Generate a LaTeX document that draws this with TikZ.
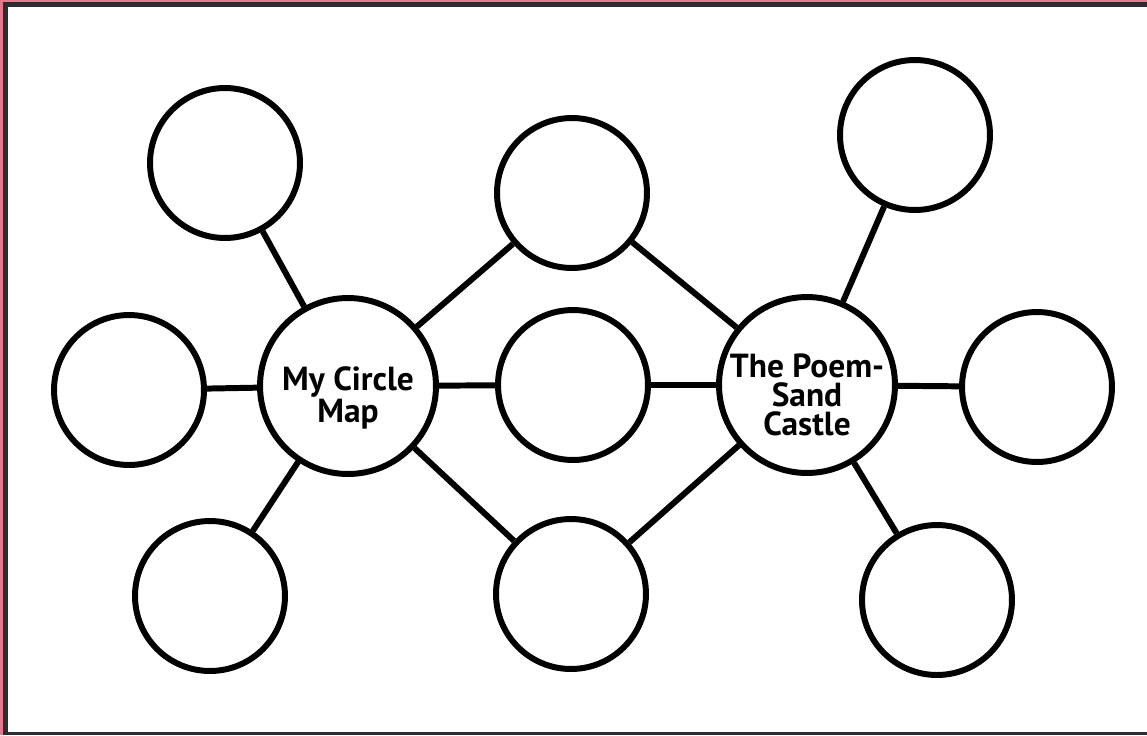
\documentclass[tikz,border=0pt]{standalone}
\usepackage{fontspec}
\setmainfont{PT Sans}
\definecolor{framepink}{HTML}{E07A8C}
\definecolor{framedark}{HTML}{2B2D33}
\begin{document}
\begin{tikzpicture}[
            x=0.02cm,y=-0.02cm,
            bubble/.style={
                draw,circle,line width=3.4pt,fill=white,
                minimum size=3cm,inner sep=0pt
            },
            hub/.style={bubble,minimum size=3.52cm},
            hubtext/.style={
                align=center,inner sep=0pt,
                font=\bfseries\fontsize{19}{16.5}\selectfont
            },
            link/.style={line width=3.4pt}
        ]
    % Frame
        \useasboundingbox (0,0) rectangle (1147,735);
        \fill[white] (0,0) rectangle (1147,735);
        \fill[framepink] (0,0) rectangle (1147,2);
        \fill[framepink] (0,0) rectangle (3,735);
        \fill[framedark] (3,2) rectangle (1147,7);
        \fill[framedark] (3,2) rectangle (8,735);
        \fill[framedark] (3,732) rectangle (1147,735);
    % Hubs
        \node[hub,label={[hubtext,yshift=-7pt]center:My Circle\\Map}] (mymap) at (348,386) {};
        \node[hub,label={[hubtext,yshift=-5.5pt]center:The Poem-\\Sand\\Castle}] (poem) at (807,385) {};
    % Bubbles
        \node[bubble] (lefttop) at (225,163) {};
        \node[bubble] (leftmid) at (129,390) {};
        \node[bubble] (leftbot) at (210,596) {};
        \node[bubble] (midtop) at (572,193) {};
        \node[bubble] (midmid) at (573,385) {};
        \node[bubble] (midbot) at (571,594) {};
        \node[bubble] (righttop) at (915,135) {};
        \node[bubble] (rightmid) at (1037,387) {};
        \node[bubble] (rightbot) at (937,600) {};
    % Links
        \draw[link] (mymap) -- (lefttop);
        \draw[link] (mymap) -- (leftmid);
        \draw[link] (mymap) -- (leftbot);
        \draw[link] (mymap) -- (midtop);
        \draw[link] (mymap) -- (midmid);
        \draw[link] (mymap) -- (midbot);
        \draw[link] (poem) -- (midtop);
        \draw[link] (poem) -- (midmid);
        \draw[link] (poem) -- (midbot);
        \draw[link] (poem) -- (righttop);
        \draw[link] (poem) -- (rightmid);
        \draw[link] (poem) -- (rightbot);
    \end{tikzpicture}
\end{document}
